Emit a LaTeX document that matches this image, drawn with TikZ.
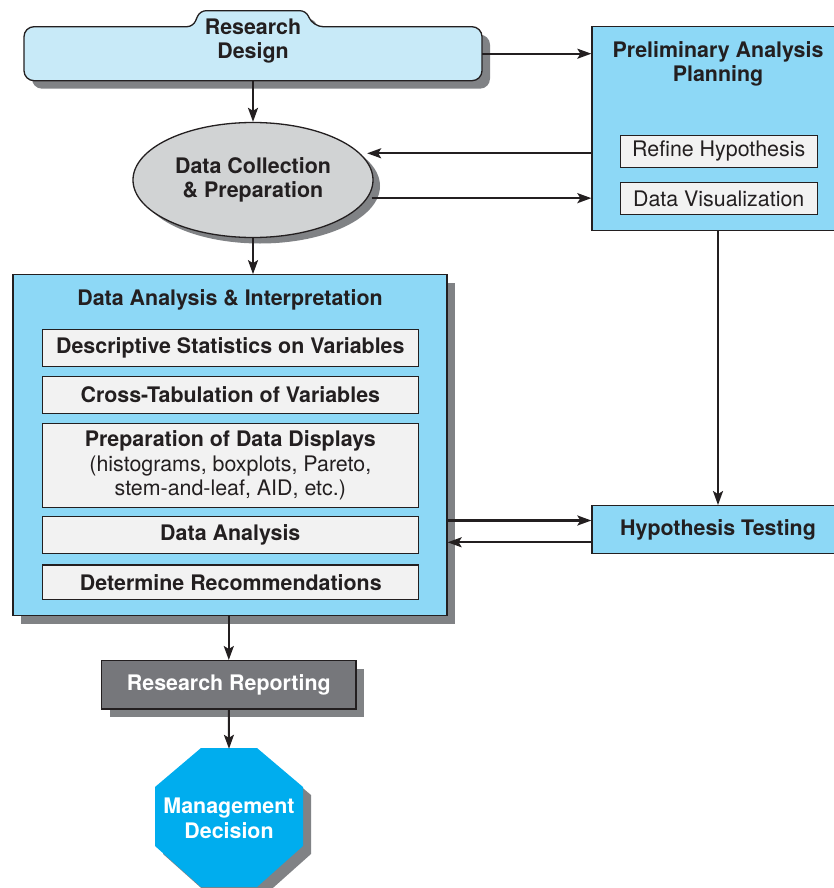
\documentclass[tikz,border=0pt]{standalone}
\usepackage{fontspec}
\setmainfont{TeX Gyre Heros}
\usetikzlibrary{arrows.meta,positioning,shapes.geometric,shadows}
\definecolor{designblue}{RGB}{200,234,248}
\definecolor{panelblue}{RGB}{141,216,246}
\definecolor{stepgray}{RGB}{242,242,242}
\definecolor{ellgray}{RGB}{209,211,212}
\definecolor{shadegray}{RGB}{128,130,133}
\definecolor{reportgray}{RGB}{118,119,123}
\definecolor{octblue}{RGB}{0,173,238}
\definecolor{inkdark}{RGB}{35,31,32}
\tikzset{
  every node/.style={font=\fontsize{21.4}{24.5}\selectfont\bfseries, text=inkdark, align=center, inner sep=0pt},
  shade8/.style={drop shadow={shadow xshift=8pt,shadow yshift=-8pt,fill=shadegray,opacity=1}},
  outline/.style={draw=inkdark, line width=1.3pt},
  panel/.style={outline, fill=panelblue},
  stepbox/.style={outline, fill=stepgray, minimum width=376pt},
  smallbox/.style={outline, fill=stepgray, minimum width=197pt, minimum height=31.5pt, font=\fontsize{21.4}{24.5}\selectfont},
  flow/.style={-{Stealth[length=14pt,width=10pt,inset=3pt]}, line width=2.1pt, draw=inkdark},
}
\begin{document}
\begin{tikzpicture}[x=1pt,y=-1pt]
\useasboundingbox (0,0) rectangle (834,888);
% Research design (tabbed box)
\path[shade8, outline, fill=designblue, rounded corners=10pt]
  (24,50) -- (24,80.7) -- (482,80.7) -- (482,26.7) -- (313,26.7)
  [rounded corners=6pt] -- (306,10.7) -- (200,10.7) -- (193,26.7)
  [rounded corners=10pt] -- (24,26.7) -- cycle;
\node[minimum width=458pt, minimum height=54pt] (design) at (253,53.7) {};
\node (designtxt) at (253,41) {Research\\Design};
% Data collection
\node[ellipse, outline, fill=ellgray, drop shadow={shadow xshift=7pt,shadow yshift=-6pt,fill=shadegray,opacity=1},
  minimum width=240pt, minimum height=115pt] (coll) at (253,180) {Data Collection\\\& Preparation};
% Preliminary analysis planning
\node[panel, minimum width=252pt, minimum height=204pt] (pap) at (718,128.7) {};
\node (paptitle) at (718,64) {Preliminary Analysis\\Planning};
\node[smallbox] (refine) at (718.7,151.5) {Refine Hypothesis};
\node[smallbox] (datavis) at (718.7,198.5) {Data Visualization};
% Data analysis & interpretation
\node[panel, shade8, minimum width=434pt, minimum height=341pt] (dai) at (230,445.3) {};
\node (daititle) at (230,299.5) {Data Analysis \& Interpretation};
\node[stepbox, minimum height=37.4pt] (desc) at (230.3,348) {Descriptive Statistics on Variables};
\node[stepbox, minimum height=36.6pt] (cross) at (230.3,395) {Cross-Tabulation of Variables};
\node[stepbox, minimum height=84.4pt] (prep) at (230.3,465.5)
  {Preparation of Data Displays\\\mdseries (histograms, boxplots, Pareto,\\\mdseries stem-and-leaf, AID, etc.)};
\node[stepbox, minimum height=36.6pt] (anal) at (230.3,535) {Data Analysis};
\node[stepbox, minimum height=34.3pt] (recom) at (230.8,582.2) {Determine Recommendations};
% Hypothesis testing
\node[panel, minimum width=252pt, minimum height=47.6pt] (ht) at (718,529.5) {Hypothesis Testing};
% Reporting and decision
\node[outline, fill=reportgray, shade8, text=white, minimum width=254.3pt, minimum height=48.3pt]
  (report) at (228.8,684.8) {Research Reporting};
\path[shade8, fill=octblue]
  (201,748) -- (257,748) -- (303,787) -- (303,846) -- (257,887) -- (201,887) -- (155,846) -- (155,787) -- cycle;
\node[text=white, minimum width=148pt, minimum height=139pt] (decision) at (229,818.5) {Management\\Decision};
% Connectors
\draw[flow] (design.south) -- (coll.north);
\draw[flow] (design.east) -- (pap.west |- design.east);
\draw[flow] (pap.west |- coll.14) -- ([xshift=7pt]coll.14);
\draw[flow] ([xshift=4pt]coll.-9.5) -- (pap.west |- coll.-9.5);
\draw[flow] (coll.south) -- (coll.south |- dai.north);
\draw[flow] (pap.south) -- (ht.north);
\draw[flow] ([yshift=9pt]ht.west -| dai.east) -- ([yshift=9pt]ht.west);
\draw[flow] ([yshift=-12.8pt]ht.west) -- ([yshift=-12.8pt]ht.west -| dai.east);
\draw[flow] (report.north |- dai.south) -- (report.north);
\draw[flow] (report.south) -- (decision.north);
\end{tikzpicture}
\end{document}
